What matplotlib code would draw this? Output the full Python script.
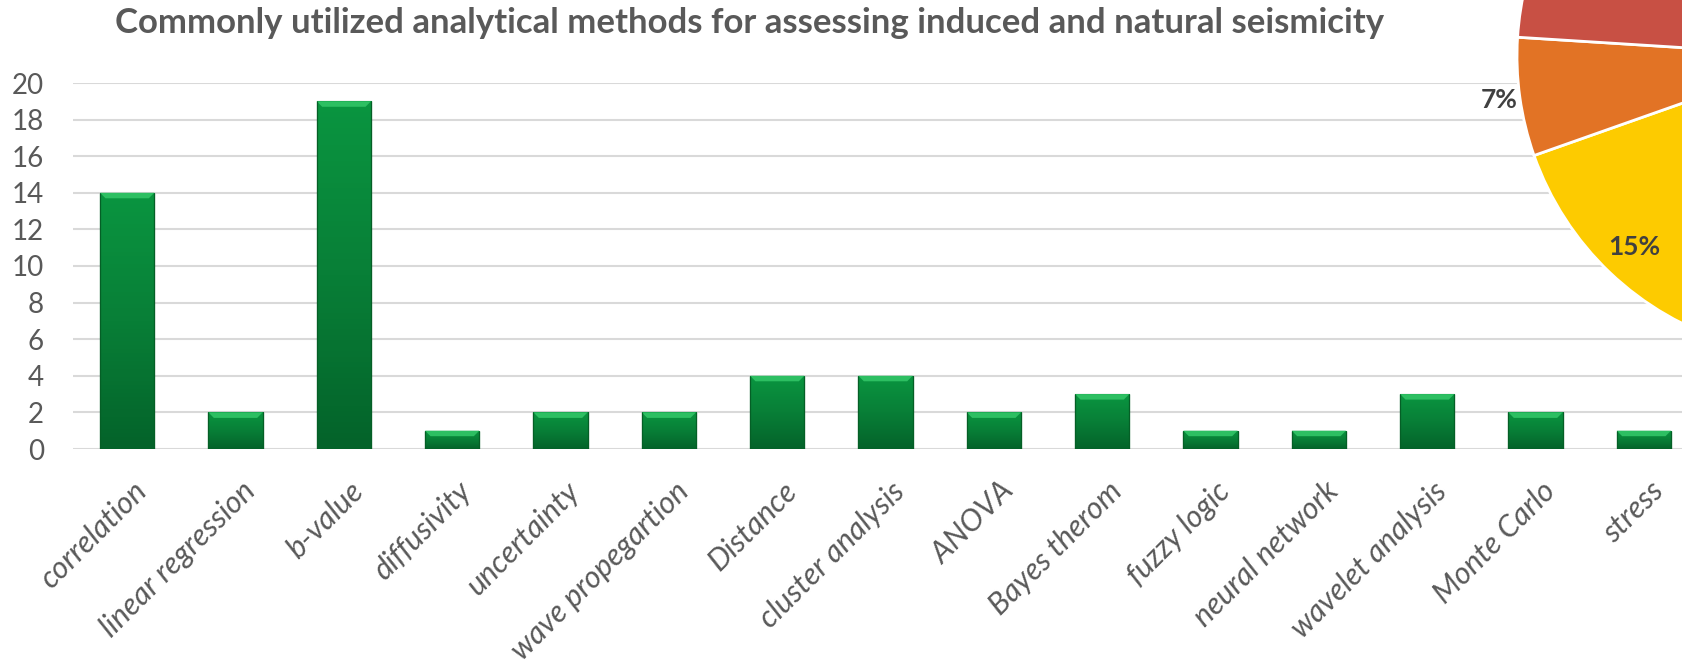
import matplotlib
matplotlib.use("Agg")
import matplotlib.pyplot as plt
import numpy as np
from matplotlib.colors import LinearSegmentedColormap
from matplotlib.patches import Polygon
from matplotlib.transforms import ScaledTranslation


methods = ["correlation", "linear regression", "b-value", "diffusivity", "uncertainty",
           "wave propegartion", "Distance", "cluster analysis", "ANOVA", "Bayes therom",
           "fuzzy logic", "neural network", "wavelet analysis", "Monte Carlo", "stress"]
counts = [14, 2, 19, 1, 2, 2, 4, 4, 2, 3, 1, 1, 3, 2, 1]
y_ticks = list(range(0, 21, 2))

# pie on the right is cut off by the canvas, only three slices show
pie_shares = [54.6, 15.0, 6.4, 24.0]
pie_labels = ["", "15%", "7%", ""]
pie_colors = ["#4472C4", "#FDCB00", "#E27325", "#C85044"]

TITLE = "Commonly utilized analytical methods for assessing induced and natural seismicity"
GREY = "#595959"
FONT = ["Lato", "DejaVu Sans"]

plt.rcParams['font.family'] = FONT

fig = plt.figure(figsize=(16.83, 6.63), dpi=100)

# --- bar chart ---
ax = fig.add_axes([73 / 1683, 214 / 663, 1625 / 1683, 366 / 663])
x = np.arange(len(methods))
bars = ax.bar(x, counts, width=0.5, color="#0A8F3E", edgecolor="#055F26", linewidth=0.8, zorder=3)

green = LinearSegmentedColormap.from_list("bar", ["#04632A", "#087F37", "#0A9540"])
grad = np.linspace(0, 1, 64).reshape(-1, 1)
for b in bars:
    x0, w, h = b.get_x(), b.get_width(), b.get_height()
    im = ax.imshow(grad, extent=[x0, x0 + w, 0, h], origin="lower", aspect="auto",
                   cmap=green, zorder=3.1)
    im.set_clip_path(b)
    dy, dx = 0.3, 0.05
    bevel = Polygon([(x0, h), (x0 + w, h), (x0 + w - dx, h - dy), (x0 + dx, h - dy)],
                    closed=True, facecolor="#2DBF62", edgecolor="none", zorder=3.2)
    ax.add_patch(bevel)
    ax.add_patch(Polygon([(x0, h), (x0, 0), (x0 + w, 0), (x0 + w, h)], closed=False,
                         fill=False, edgecolor="#055F26", linewidth=0.9, zorder=3.3))

ax.set_xlim(-0.5, len(methods) - 0.5)
ax.set_ylim(0, 20)
ax.set_yticks(y_ticks)
ax.grid(axis="y", color="#D9D9D9", linewidth=1.5, zorder=0)
ax.set_axisbelow(True)
for s in ax.spines.values():
    s.set_visible(False)
ax.axhline(0, color="#D9D9D9", linewidth=2, zorder=2)

ax.tick_params(axis="y", length=0, pad=21, labelsize=20, labelcolor=GREY)
ax.tick_params(axis="x", length=0, pad=20, labelsize=22, labelcolor=GREY)
ax.set_xticks(x)
ax.set_xticklabels(methods, rotation=45, ha="right", rotation_mode="anchor",
                   fontstyle="italic", fontweight="normal")
for lab in ax.get_xticklabels():
    lab.set_transform(lab.get_transform() + ScaledTranslation(0.05, 0, fig.dpi_scale_trans))

fig.text(750 / 1683, 1 - 33 / 663, TITLE, ha="center", va="baseline",
         fontsize=25, fontweight="bold", color=GREY)

# --- pie, mostly off the right edge ---
pax = fig.add_axes([1517 / 1683, 308 / 663, 598 / 1683, 598 / 663])
wedges, _ = pax.pie(pie_shares, colors=pie_colors, startangle=90, counterclock=False,
                    wedgeprops={'edgecolor': 'white', 'linewidth': 2})
label_dist = [0.6, 0.88, 1.07, 0.6]
for w, txt, r in zip(wedges, pie_labels, label_dist):
    if not txt:
        continue
    ang = np.deg2rad((w.theta1 + w.theta2) / 2)
    pax.text(r * np.cos(ang), r * np.sin(ang), txt, ha="center", va="center",
             fontsize=19, fontweight="bold", color="#404040")
pax.set_xlim(-1, 1)
pax.set_ylim(-1, 1)
pax.axis("off")

fig.savefig("out.png", dpi=100)
